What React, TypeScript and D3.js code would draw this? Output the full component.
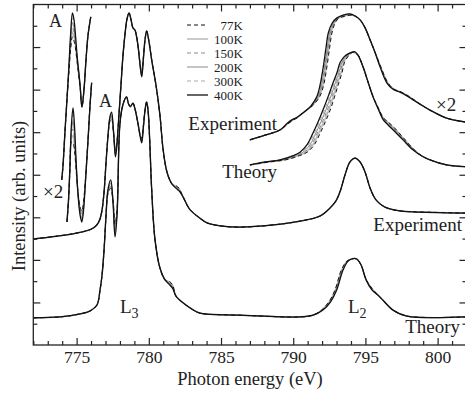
import React, { useEffect, useRef } from "react";
import * as d3 from "d3";

// legend temperatures
const temps = ["77K", "100K", "150K", "200K", "300K", "400K"];
// share of the 77K offset that each temperature gets (400K is the reference curve)
const tempSpread = [1, 0.8, 0.6, 0.4, 0.2, 0];

// rows: [photon energy (eV), intensity (arb.), dE of 77K vs 400K, dI of 77K vs 400K]
const experiment: number[][] = [
  [772.0, 2.49], [773.5, 2.55], [775.0, 2.63], [776.0, 2.72], [776.4, 2.82],
  [776.62, 2.96], [776.76, 3.17], [776.9, 3.59], [777.03, 4.25], [777.17, 4.9],
  [777.3, 5.35, 0, -0.1], [777.42, 5.47, 0, -0.15], [777.55, 5.05, 0, -0.05],
  [777.69, 4.42, 0, 0.15], [777.8, 4.72, 0, 0.1], [777.93, 5.4], [778.07, 6.1],
  [778.21, 6.8], [778.35, 7.3], [778.49, 7.66], [778.63, 7.8], [778.77, 7.64],
  [778.9, 7.45], [779.04, 7.4], [779.15, 7.25], [779.28, 6.95], [779.4, 6.55, 0, 0.05],
  [779.51, 6.3, 0, 0.1], [779.62, 6.7, 0, 0.05], [779.73, 7.15], [779.85, 7.38],
  [780.0, 7.15], [780.22, 6.65], [780.5, 6.1], [780.77, 5.4], [780.98, 4.62],
  [781.26, 4.06], [781.61, 3.78], [781.9, 3.68, 0, 0.06], [782.1, 3.62, 0, 0.06],
  [782.37, 3.48], [782.85, 3.18], [783.54, 2.98], [784.03, 2.87], [784.93, 2.8],
  [786.31, 2.77], [788.6, 2.82], [790.47, 2.91], [791.86, 3.03], [792.55, 3.22],
  [792.95, 3.38], [793.24, 3.6], [793.59, 4.0], [793.93, 4.3], [794.28, 4.39],
  [794.63, 4.3], [794.98, 4.06], [795.32, 3.69], [795.73, 3.41], [796.35, 3.24],
  [797.4, 3.15], [798.3, 3.13], [802.0, 3.1],
];

const theory: number[][] = [
  [772.0, 0.64], [773.85, 0.66], [775.24, 0.73], [775.93, 0.8], [776.41, 0.94],
  [776.62, 1.29], [776.76, 1.64], [776.9, 2.23], [777.03, 3.0], [777.17, 3.65, 0, -0.1],
  [777.36, 3.88, 0, -0.2], [777.52, 3.35, 0, 0.05], [777.66, 2.54, 0, 0.3],
  [777.8, 3.05, 0, 0.15], [778.0, 5.2], [778.21, 5.65], [778.45, 5.83], [778.6, 5.66],
  [778.72, 5.6], [778.9, 5.68], [779.04, 5.55], [779.25, 5.2], [779.4, 4.9, 0, 0.05],
  [779.51, 4.75, 0, 0.1], [779.62, 5.1, 0, 0.05], [779.75, 5.55], [779.85, 5.71],
  [779.95, 5.5], [780.05, 4.9], [780.2, 3.64], [780.43, 2.47], [780.77, 1.81],
  [781.12, 1.53], [781.4, 1.43, 0, 0.07], [781.65, 1.33, 0, 0.08], [781.88, 1.15],
  [782.37, 0.99], [783.0, 0.84], [783.54, 0.75], [786.31, 0.7], [790.47, 0.66],
  [791.37, 0.7], [792.06, 0.82, -0.1, 0], [792.6, 1.02, -0.12, 0], [793.01, 1.29, -0.12, 0],
  [793.45, 1.76, -0.12, 0], [793.8, 1.97, -0.08, 0], [794.15, 2.03], [794.4, 2.02],
  [794.7, 1.88], [795.05, 1.53], [795.46, 1.29, 0, 0.04], [796.0, 1.13], [796.91, 0.82],
  [797.86, 0.68], [802.0, 0.66],
];

// x2 insets, left (pre-edge A region)
const experimentX2Left: number[][] = [
  [773.97, 3.88], [774.06, 4.23], [774.2, 5.05], [774.33, 5.76], [774.47, 6.58, 0, -0.15],
  [774.58, 7.28, 0, -0.35], [774.71, 7.8, 0, -0.56], [774.82, 7.64, 0, -0.5],
  [774.92, 7.28, 0, -0.3], [775.03, 6.81, 0, -0.15], [775.24, 6.11, 0, -0.05],
  [775.37, 5.59], [775.51, 6.0], [775.65, 6.7], [775.79, 7.28], [775.98, 7.71],
];

const theoryX2Left: number[][] = [
  [774.33, 2.89], [774.44, 3.41], [774.54, 4.23, 0, -0.1], [774.64, 5.17, 0, -0.4],
  [774.75, 5.57, 0, -0.82], [774.85, 5.17, 0, -0.6], [774.96, 4.35, 0, -0.2],
  [775.1, 3.52, 0, 0.05], [775.24, 3.05, 0, 0.2], [775.36, 2.89, 0, 0.25],
  [775.48, 3.17, 0, 0.2], [775.62, 3.88, 0, 0.05], [775.79, 4.82], [775.93, 5.64],
  [776.04, 6.16],
];

// x2 insets, right (L2 region)
const experimentX2Right: number[][] = [
  [787.0, 4.82], [788.04, 4.93], [789.08, 5.05], [789.55, 5.2, 0.1, 0], [789.9, 5.29, 0.12, 0],
  [790.2, 5.34, 0.1, 0], [790.47, 5.4], [790.93, 5.52], [791.23, 5.62, 0.1, 0],
  [791.63, 5.83, 0.2, 0], [791.86, 6.11, 0.25, 0], [792.08, 6.53, 0.25, 0],
  [792.27, 6.98, 0.25, 0], [792.43, 7.33, 0.25, 0], [792.69, 7.56, 0.2, 0],
  [793.01, 7.68, 0.15, 0], [793.45, 7.75, 0.1, -0.03], [793.93, 7.78, 0, -0.03],
  [794.28, 7.73], [794.63, 7.64], [794.98, 7.45], [795.32, 7.17], [795.66, 6.88],
  [796.01, 6.54, 0.05, 0], [796.48, 6.16, 0.08, 0], [796.91, 6.01, 0.08, 0],
  [797.4, 5.94, 0.1, 0], [797.88, 5.85, 0.1, 0], [798.3, 5.76, 0.08, 0], [798.78, 5.66],
  [799.47, 5.52], [800.63, 5.33], [801.9, 5.24],
];

const theoryX2Right: number[][] = [
  [787.0, 4.23], [788.04, 4.3, 0.3, 0], [789.08, 4.35, 0.4, 0], [790.0, 4.45, 0.45, 0],
  [790.47, 4.53, 0.5, 0], [790.95, 4.7, 0.5, 0], [791.37, 4.98, 0.5, 0], [791.72, 5.24, 0.5, 0],
  [792.06, 5.52, 0.5, 0], [792.41, 5.83, 0.45, 0], [792.76, 6.16, 0.4, 0], [793.04, 6.41, 0.35, 0],
  [793.24, 6.63, 0.3, 0], [793.52, 6.77, 0.25, 0], [793.8, 6.84, 0.15, 0], [794.07, 6.88, 0.1, 0],
  [794.28, 6.89, 0.05, -0.05], [794.49, 6.81], [794.84, 6.53], [795.18, 6.18], [795.53, 5.83],
  [795.88, 5.55, 0, 0.03], [796.24, 5.29, 0, 0.05], [796.57, 5.17, 0, 0.07],
  [796.93, 5.05, 0, 0.08], [797.6, 4.82, 0, 0.06], [798.31, 4.58, 0, 0.03], [798.91, 4.44],
  [799.47, 4.35], [800.63, 4.23], [801.9, 4.19],
];

const xMajor = [775, 780, 785, 790, 795, 800];
const yMajor = [1, 2, 3, 4, 5, 6, 7];

const lineStyle: Record<string, { stroke: string; dash: string | null; width: number }> = {
  "77K": { stroke: "#111", dash: "4,3", width: 1 },
  "100K": { stroke: "#b8b8b8", dash: null, width: 1.5 },
  "150K": { stroke: "#8a8a8a", dash: "4,3", width: 1 },
  "200K": { stroke: "#8a8a8a", dash: null, width: 1 },
  "300K": { stroke: "#aaaaaa", dash: "4,3", width: 1 },
  "400K": { stroke: "#111", dash: null, width: 1.3 },
};
const drawOrder = ["300K", "100K", "200K", "150K", "77K", "400K"];

const App: React.FC = () => {
  const svgRef = useRef<SVGSVGElement | null>(null);

  useEffect(() => {
    if (svgRef.current) {
      drawChart();
    }
  }, []);

  const drawChart = () => {
    const width = 465;
    const height = 393;
    const font = "'Times New Roman', 'Liberation Serif', Tinos, serif";

    const svg = d3.select(svgRef.current).attr("width", width).attr("height", height);
    svg.selectAll("*").remove();

    const x = d3.scaleLinear().domain([772, 802]).range([33.3, 466.5]);
    const y = d3.scaleLinear().domain([0, 8]).range([345, 4.5]);

    svg
      .append("defs")
      .append("clipPath")
      .attr("id", "plotClip")
      .append("rect")
      .attr("x", x(772))
      .attr("y", y(8))
      .attr("width", x(802) - x(772))
      .attr("height", y(0) - y(8));

    const line = d3
      .line<number[]>()
      .x((d) => x(d[0]))
      .y((d) => y(d[1]))
      .curve(d3.curveCatmullRom.alpha(0.5));

    const plot = svg.append("g").attr("clip-path", "url(#plotClip)");
    const groups = [experiment, theory, experimentX2Left, theoryX2Left, experimentX2Right, theoryX2Right];

    groups.forEach((rows) => {
      drawOrder.forEach((t) => {
        const f = tempSpread[temps.indexOf(t)];
        const pts = rows.map((r) => [r[0] + (r[2] || 0) * f, r[1] + (r[3] || 0) * f]);
        const st = lineStyle[t];
        plot
          .append("path")
          .datum(pts)
          .attr("d", line)
          .attr("fill", "none")
          .attr("stroke", st.stroke)
          .attr("stroke-width", st.width)
          .attr("stroke-dasharray", st.dash)
          .attr("stroke-linejoin", "round");
      });
    });

    // axes, ticks pointing inward on all four sides
    const xMinor = d3.range(772, 803).filter((v) => v % 5 !== 0);
    const yMinor = d3.range(0.5, 8, 1);
    const styleAxis = (g: any) => {
      g.selectAll("path").remove();
      g.selectAll("line").attr("stroke", "#222").attr("stroke-width", 1.2);
      g.selectAll("text").attr("font-family", font).attr("font-size", 17.5).attr("fill", "#222");
    };

    svg.append("g").attr("transform", `translate(0,${y(0)})`)
      .call(d3.axisBottom(x).tickValues(xMajor).tickSize(-7).tickPadding(6).tickFormat(d3.format("d")))
      .call(styleAxis);
    svg.append("g").attr("transform", `translate(0,${y(0)})`)
      .call(d3.axisBottom(x).tickValues(xMinor).tickSize(-4).tickFormat(() => ""))
      .call(styleAxis);
    svg.append("g").attr("transform", `translate(0,${y(8)})`)
      .call(d3.axisTop(x).tickValues(xMajor).tickSize(-7).tickFormat(() => ""))
      .call(styleAxis);
    svg.append("g").attr("transform", `translate(0,${y(8)})`)
      .call(d3.axisTop(x).tickValues(xMinor).tickSize(-4).tickFormat(() => ""))
      .call(styleAxis);
    svg.append("g").attr("transform", `translate(${x(772)},0)`)
      .call(d3.axisLeft(y).tickValues(yMajor).tickSize(-7).tickFormat(() => ""))
      .call(styleAxis);
    svg.append("g").attr("transform", `translate(${x(772)},0)`)
      .call(d3.axisLeft(y).tickValues(yMinor).tickSize(-4).tickFormat(() => ""))
      .call(styleAxis);
    svg.append("g").attr("transform", `translate(${x(802)},0)`)
      .call(d3.axisRight(y).tickValues(yMajor).tickSize(-7).tickFormat(() => ""))
      .call(styleAxis);
    svg.append("g").attr("transform", `translate(${x(802)},0)`)
      .call(d3.axisRight(y).tickValues(yMinor).tickSize(-4).tickFormat(() => ""))
      .call(styleAxis);

    svg
      .append("rect")
      .attr("x", x(772))
      .attr("y", y(8))
      .attr("width", x(802) - x(772))
      .attr("height", y(0) - y(8))
      .attr("fill", "none")
      .attr("stroke", "#222")
      .attr("stroke-width", 1.3);

    // axis titles
    svg.append("text")
      .attr("x", 250)
      .attr("y", 385)
      .attr("text-anchor", "middle")
      .attr("font-family", font)
      .attr("font-size", 18.5)
      .attr("fill", "#222")
      .text("Photon energy (eV)");
    svg.append("text")
      .attr("transform", "translate(25,196) rotate(-90)")
      .attr("text-anchor", "middle")
      .attr("font-family", font)
      .attr("font-size", 18.5)
      .attr("fill", "#222")
      .text("Intensity (arb. units)");

    // curve labels
    const label = (tx: number, ty: number, s: string, anchor = "start", size = 19) =>
      svg.append("text")
        .attr("x", tx)
        .attr("y", ty)
        .attr("text-anchor", anchor)
        .attr("font-family", font)
        .attr("font-size", size)
        .attr("fill", "#222")
        .text(s);

    label(277, 130, "Experiment", "end");
    label(277, 178, "Theory", "end");
    label(462, 231, "Experiment", "end");
    label(460, 333, "Theory", "end");
    label(436, 111, "×2");
    label(43, 198, "×2");
    label(49, 27, "A", "start", 18);
    label(99, 107, "A", "start", 18);

    const sub = (tx: number, ty: number, s: string, idx: string) => {
      const t = label(tx, ty, s);
      t.append("tspan").attr("dy", 5).attr("font-size", 14).text(idx);
    };
    sub(120, 313, "L", "3");
    sub(348, 313, "L", "2");

    // legend
    const lg = svg.append("g");
    temps.forEach((t, i) => {
      const st = lineStyle[t];
      const ly = 25 + i * 14;
      lg.append("line")
        .attr("x1", 187)
        .attr("x2", 208)
        .attr("y1", ly)
        .attr("y2", ly)
        .attr("stroke", st.stroke)
        .attr("stroke-width", st.width)
        .attr("stroke-dasharray", st.dash);
      lg.append("text")
        .attr("x", 243)
        .attr("y", ly + 4.5)
        .attr("text-anchor", "end")
        .attr("font-family", font)
        .attr("font-size", 13)
        .attr("fill", "#222")
        .text(t);
    });
  };

  return (
    <svg ref={svgRef} style={{ position: "absolute", left: 0, top: 0, display: "block" }}></svg>
  );
};

export default App;
